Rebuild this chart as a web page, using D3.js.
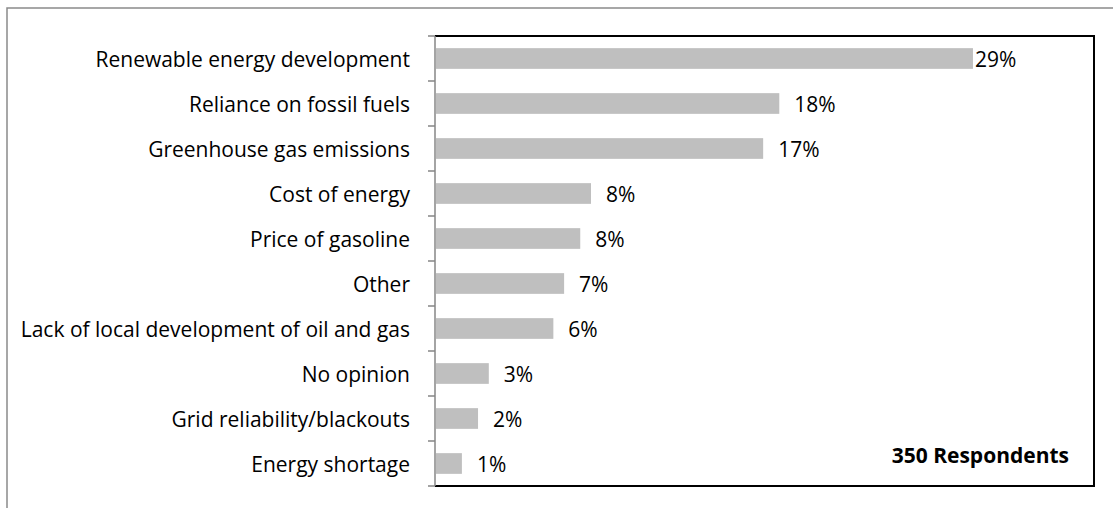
<!DOCTYPE html>
<html>
<head>
<meta charset="utf-8">
<script src="https://cdn.jsdelivr.net/npm/d3@7"></script>
<style>
  html, body { margin: 0; padding: 0; background: #ffffff; }
  svg { display: block; }
  text { font-family: "Open Sans", Lato, sans-serif; fill: #000; }
</style>
</head>
<body>
<svg id="chart" width="1113" height="508"></svg>
<script>
// Survey answers and the number of respondents choosing each
const categories = [
  "Renewable energy development",
  "Reliance on fossil fuels",
  "Greenhouse gas emissions",
  "Cost of energy",
  "Price of gasoline",
  "Other",
  "Lack of local development of oil and gas",
  "No opinion",
  "Grid reliability/blackouts",
  "Energy shortage"
];
const respondents = [100, 64, 61, 29, 27, 24, 22, 10, 8, 5];
const totalRespondents = 350;
const shares = respondents.map(n => n / totalRespondents * 100);
const xDomain = [0, 35];

const svg = d3.select("#chart");
const W = 1113, H = 508;

// outer frame (open at the right and bottom)
svg.append("path")
  .attr("d", `M7,${H} V8 H${W}`)
  .attr("fill", "none")
  .attr("stroke", "#8a8a8a")
  .attr("stroke-width", 1.5);

const plot = { left: 435, top: 36, right: 1094, bottom: 486 };

const x = d3.scaleLinear().domain(xDomain).range([plot.left, plot.right]);
const y = d3.scaleBand()
  .domain(categories)
  .range([plot.top, plot.bottom])
  .paddingInner(0.54)
  .paddingOuter(0.27);

// plot area box
svg.append("path")
  .attr("d", `M${plot.left},${plot.top} H${plot.right} V${plot.bottom} H${plot.left}`)
  .attr("fill", "none")
  .attr("stroke", "#000")
  .attr("stroke-width", 2);

// bars
svg.append("g").selectAll("rect")
  .data(categories)
  .join("rect")
  .attr("x", x(0) + 1)
  .attr("y", d => y(d))
  .attr("width", (d, i) => x(shares[i]) - x(0) - 1)
  .attr("height", y.bandwidth())
  .attr("fill", "#bfbfbf");

// category axis: ticks sit on the band boundaries
const boundaries = d3.range(categories.length + 1).map(i => plot.top + i * (plot.bottom - plot.top) / categories.length);
const axisG = svg.append("g");
axisG.append("line")
  .attr("x1", plot.left).attr("x2", plot.left)
  .attr("y1", plot.top).attr("y2", plot.bottom)
  .attr("stroke", "#868686").attr("stroke-width", 1.5);
axisG.selectAll("line.tick")
  .data(boundaries)
  .join("line")
  .attr("class", "tick")
  .attr("x1", plot.left - 7).attr("x2", plot.left)
  .attr("y1", d => d).attr("y2", d => d)
  .attr("stroke", "#868686").attr("stroke-width", 1.5);

const yAxis = d3.axisLeft(y).tickSize(0).tickPadding(0);
const yg = svg.append("g")
  .attr("transform", `translate(${plot.left - 25},0)`)
  .call(yAxis);
yg.select(".domain").remove();
yg.selectAll("text")
  .style("font-size", "21px")
  .style("font-family", "'Open Sans', sans-serif")
  .attr("fill", "#000")
  .attr("dy", "0.42em");

// value labels
const fmt = v => Math.round(v) + "%";
svg.append("g").selectAll("text")
  .data(categories)
  .join("text")
  .attr("x", (d, i) => x(shares[i]) + (i === 0 ? 2 : 15))
  .attr("y", d => y(d) + y.bandwidth() / 2)
  .attr("dy", "0.42em")
  .style("font-size", "21px")
  .text((d, i) => fmt(shares[i]));

// respondent count note
svg.append("text")
  .attr("x", 1069)
  .attr("y", 463)
  .attr("text-anchor", "end")
  .style("font-size", "21px")
  .style("font-weight", "bold")
  .text(totalRespondents + " Respondents");
</script>
</body>
</html>
